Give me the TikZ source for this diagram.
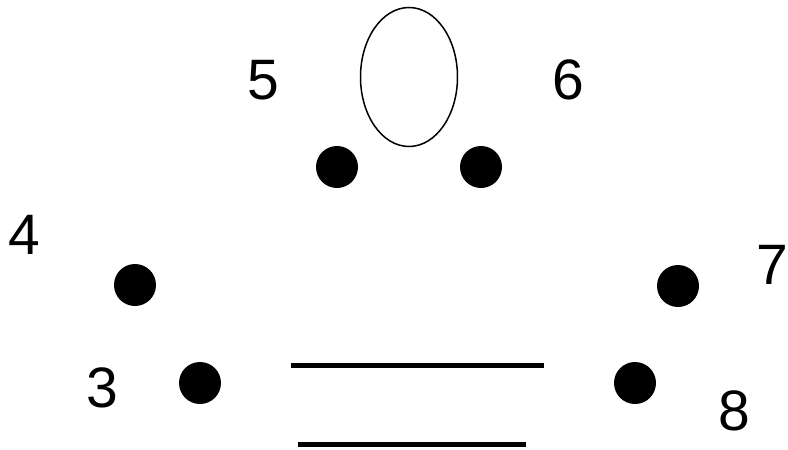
\documentclass[tikz,border=0pt]{standalone}
\usepackage{fontspec}
\setmainfont{Liberation Sans}
\usetikzlibrary{shapes.geometric}
\begin{document}
\begin{tikzpicture}[x=1pt,y=-1pt,
  dot/.style={circle,fill=black,draw=none,minimum size=42pt,inner sep=0pt},
  lbl/.style={inner sep=0pt,font=\fontsize{57}{60}\selectfont},
  bar/.style={line width=5pt}]
\useasboundingbox[fill=white] (0,0) rectangle (788,450);
\node[draw,line width=1.5pt,ellipse,minimum width=97pt,minimum height=139pt,inner sep=0pt] (e) at (409,77) {};
\node[dot] (d5) at (337,167) {};
\node[dot] (d6) at (481,167) {};
\node[dot] (d4) at (135,285) {};
\node[dot] (d7) at (678,286) {};
\node[dot] (d3) at (200,383) {};
\node[dot] (d8) at (635,383) {};
\node[lbl] (l5) at (263,80) {5};
\node[lbl] (l6) at (568,80) {6};
\node[lbl] (l4) at (24,235) {4};
\node[lbl] (l7) at (772,265) {7};
\node[lbl] (l3) at (102,388) {3};
\node[lbl] (l8) at (734,411) {8};
\coordinate (a1) at (291,365);
\coordinate (a2) at (544,365);
\coordinate (b1) at (298,444);
\coordinate (b2) at (526,444);
\draw[bar] (a1) -- (a2);
\draw[bar] (b1) -- (b2);
\end{tikzpicture}
\end{document}
